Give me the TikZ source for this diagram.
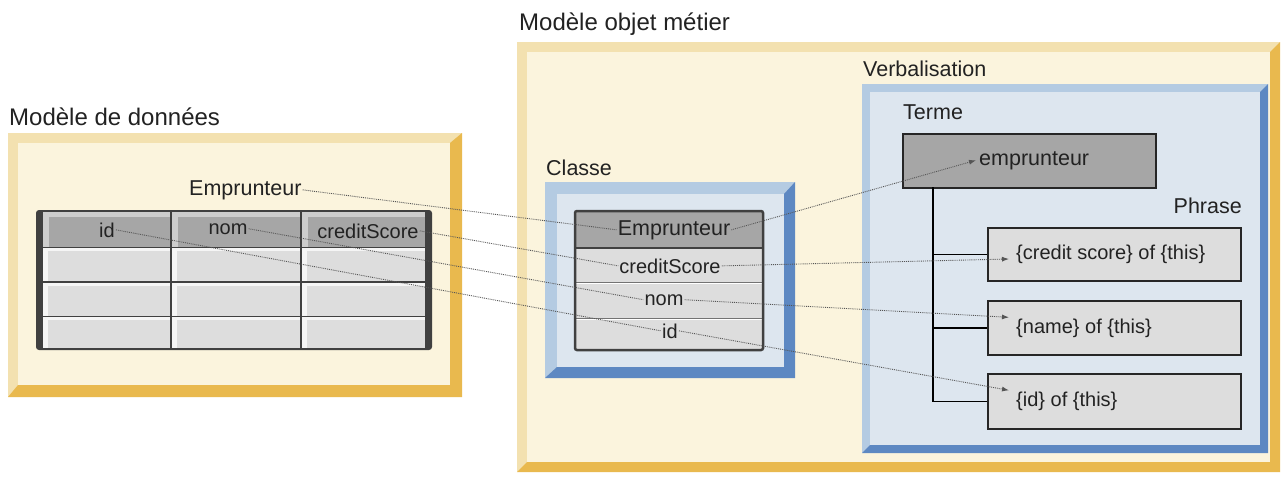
\documentclass[tikz,border=0pt]{standalone}
\usepackage{fontspec}
\setmainfont{Liberation Sans}
\usetikzlibrary{arrows.meta}
\definecolor{goldL}{HTML}{F3E1B0}
\definecolor{goldD}{HTML}{E9B94E}
\definecolor{goldF}{HTML}{FBF4DD}
\definecolor{blueL}{HTML}{B4CBE2}
\definecolor{blueD}{HTML}{5D88C2}
\definecolor{blueF}{HTML}{DDE6EF}
\definecolor{hdrG}{HTML}{A6A6A6}
\definecolor{hdrL}{HTML}{CDCDCD}
\definecolor{cellG}{HTML}{DDDDDD}
\definecolor{tblD}{HTML}{404040}
\definecolor{txt}{HTML}{222222}
\definecolor{linkc}{HTML}{555555}
% x1 y1 x2 y2 light-thickness dark-thickness colour-prefix
\newcommand\bevelbox[7]{%
  \fill[#7L] (#1,#2) rectangle (#3,#4);
  \fill[#7D] (#3,#2) -- (#3,#4) -- (#1,#4) -- ({#1+#5},{#4-#6}) -- ({#3-#6},{#4-#6}) -- ({#3-#6},{#2+#5}) -- cycle;
  \fill[#7F] ({#1+#5},{#2+#5}) rectangle ({#3-#6},{#4-#6});
}
\tikzset{
  bigt/.style={font=\fontsize{24}{28}\selectfont, text=txt, inner sep=1pt},
  midt/.style={font=\fontsize{21.5}{26}\selectfont, text=txt, inner sep=1pt},
  cellt/.style={font=\fontsize{20}{24}\selectfont, text=txt, inner sep=1pt},
  link/.style={densely dotted, line width=0.9pt, draw=linkc},
  arr/.style={link, -{Latex[length=7pt,width=5pt]}},
  treeline/.style={draw=black, line width=1.6pt},
  termbox/.style={draw=black!85, line width=1.8pt, fill=hdrG, inner sep=0pt},
  phrbox/.style={draw=black!85, line width=1.8pt, fill=cellG, inner sep=0pt, minimum width=253pt, minimum height=53pt, anchor=north west}
}
\begin{document}
\begin{tikzpicture}[x=1pt,y=-1pt]
\useasboundingbox (0,0) rectangle (1282,477);
\fill[white] (0,0) rectangle (1282,477);

% ---------- Data model ----------
\node[bigt, anchor=base west] (tData) at (8,125) {Modèle de données};
\bevelbox{8}{133}{462}{397}{10}{12}{gold}
\fill[tblD, rounded corners=3pt] (36,210) rectangle (432,350);
\foreach \xa/\xb in {43/169.5, 171.5/299.5, 301.5/425}{
  \fill[hdrL] (\xa,212) rectangle (\xb,246.5);
  \fill[hdrG] (\xa+6,217) rectangle (\xb,246.5);
  \foreach \ya/\yb in {248/281, 282.5/315.5, 317/348}{
    \fill[white!96!black] (\xa,\ya) rectangle (\xb,\yb);
    \fill[cellG] (\xa+5,\ya+3) rectangle (\xb,\yb);
  }
}
\node[midt, anchor=base west] (lEmp) at (188,195) {Emprunteur};
\node[cellt, anchor=base] (lId) at (107,237) {id};
\node[cellt, anchor=base] (lNom) at (228,234) {nom};
\node[cellt, anchor=base] (lCS) at (368,238) {creditScore};

% ---------- Business object model ----------
\node[bigt, anchor=base west] (tBom) at (518,30) {Modèle objet métier};
\bevelbox{517}{42}{1280}{472}{10}{10}{gold}

% Classe
\node[midt, anchor=base west] (tClasse) at (545,175) {Classe};
\bevelbox{545}{182}{795}{378}{12}{11}{blue}
\fill[cellG] (575,211) rectangle (763,350);
\fill[hdrG] (575,211) rectangle (763,248);
\draw[black!75, line width=1.5pt] (575,248) -- (763,248);
\draw[black!55, line width=1pt] (575,282) -- (763,282);
\draw[black!55, line width=1pt] (575,318) -- (763,318);
\draw[white, line width=0.8pt] (576,283.3) -- (762,283.3) (576,319.3) -- (762,319.3);
\draw[tblD, line width=2.5pt, rounded corners=2pt] (575,211) rectangle (763,350);
\node[midt, anchor=base] (cEmp) at (674,235) {Emprunteur};
\node[cellt, anchor=base] (cCS) at (670,273) {creditScore};
\node[cellt, anchor=base] (cNom) at (664,305) {nom};
\node[cellt, anchor=base] (cId) at (670,338) {id};

% Verbalisation
\node[midt, anchor=base west] (tVerb) at (862,76) {Verbalisation};
\bevelbox{862}{84}{1268}{453}{8}{8}{blue}
\node[midt, anchor=base west] (tTerme) at (902,119) {Terme};
\node[termbox, minimum width=253pt, minimum height=54pt, anchor=north west] (termeBox) at (902,133) {};
\node[midt, anchor=base west] (tEmp) at (978,165) {emprunteur};
\node[midt, anchor=base east] (tPhrase) at (1243,213) {Phrase};
\node[phrbox] (p1box) at (987,227) {};
\node[phrbox, minimum height=54pt] (p2box) at (987,300) {};
\node[phrbox, minimum height=55pt] (p3box) at (987,373) {};
\coordinate (tr) at (933,187);
\draw[treeline] (tr) |- (p1box.west);
\draw[treeline] (tr) |- (p2box.west);
\draw[treeline] (tr) |- (p3box.west);
\node[cellt, anchor=base west] (p1) at (1015,259) {\{credit score\} of \{this\}};
\node[cellt, anchor=base west] (p2) at (1015,333) {\{name\} of \{this\}};
\node[cellt, anchor=base west] (p3) at (1015,406) {\{id\} of \{this\}};

% ---------- connectors ----------
\draw[link] (lEmp.east) -- (cEmp.west);
\draw[link] (lCS.east) -- (cCS.west);
\draw[link] (lNom.east) -- (cNom.west);
\draw[link] (lId.east) -- (cId.west);
\draw[arr] (cEmp.east) -- ([xshift=-2pt]tEmp.west);
\draw[arr] (cCS.east) -- ([xshift=-6pt]p1.base west);
\draw[arr] (cNom.east) -- ([xshift=-6pt]p2.north west);
\draw[arr] (cId.east) -- ([xshift=-6pt]p3.north west);
\end{tikzpicture}
\end{document}
